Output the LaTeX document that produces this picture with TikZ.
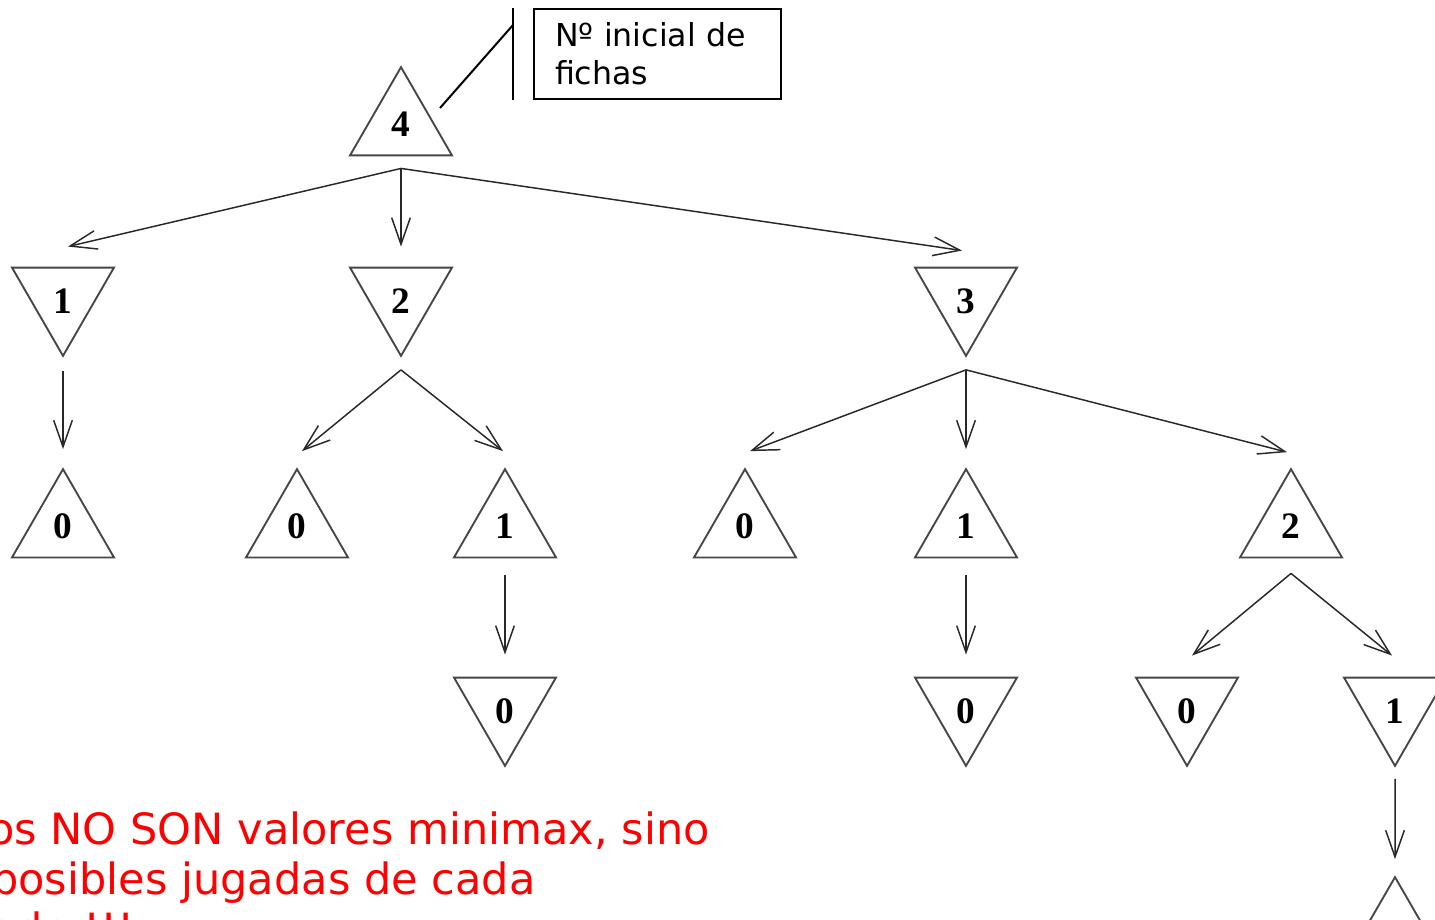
\documentclass[tikz,border=0pt]{standalone}
\usepackage{fontspec}
\setmainfont{DejaVu Sans}
\newfontfamily\digitfont{Liberation Serif}
\usetikzlibrary{shapes.geometric,arrows.meta,calc}
\definecolor{trigray}{RGB}{70,70,70}
\definecolor{arrgray}{RGB}{40,40,40}
\definecolor{notered}{RGB}{255,0,0}
\begin{document}
\begin{tikzpicture}[x=0.75pt,y=-0.75pt,
  tri/.style={regular polygon,regular polygon sides=3,draw=trigray,line width=1.4pt,
    inner sep=0pt,outer sep=0pt,minimum size=88.3pt,
    text height=18.5pt,text depth=3pt,
    font=\digitfont\bfseries\fontsize{28}{28}\selectfont},
  tridown/.style={tri,shape border rotate=180,text height=25pt,text depth=0pt},
  arr/.style={draw=arrgray,line width=1.1pt,
    -{Straight Barb[length=20pt,width=14pt,line width=1.1pt]}},
  callout/.style={draw=black,line width=1.5pt},
  redtxt/.style={text=notered,font=\fontsize{32.3}{37.5}\selectfont,inner sep=0pt,anchor=base west}]
\useasboundingbox (0,0) rectangle (1435,920);
\clip (0,0) rectangle (1435,920);
\fill[white] (0,0) rectangle (1435,920);

% nodes
\node[tri] (n4) at (401,126) {4};
\node[tridown] (a1) at (63,297) {1};
\node[tridown] (a2) at (401,297) {2};
\node[tridown] (a3) at (966,297) {3};
\node[tri] (b0) at (63,528) {0};
\node[tri] (c0) at (297,528) {0};
\node[tri] (c1) at (505,528) {1};
\node[tri] (d0) at (745,528) {0};
\node[tri] (d1) at (966,528) {1};
\node[tri] (d2) at (1291,528) {2};
\node[tridown] (e0) at (505,707) {0};
\node[tridown] (f0) at (966,707) {0};
\node[tridown] (g0) at (1187,707) {0};
\node[tridown] (g1) at (1395,707) {1};
\node[tri] (h0) at (1395,936) {};

% edges
\coordinate (s4) at ($(n4.south)+(0,13)$);
\draw[arr] (s4) -- ($(a1.north)+(5,-21)$);
\draw[arr] (s4) -- ($(a2.north)+(0,-21)$);
\draw[arr] (s4) -- ($(a3.north)+(-4,-17)$);

\draw[arr] ($(a1.south)+(0,15)$) -- ($(b0.north)+(0,-20)$);

\coordinate (s2) at ($(a2.south)+(0,14)$);
\draw[arr] (s2) -- ($(c0.north)+(5,-18)$);
\draw[arr] (s2) -- ($(c1.north)+(-2,-18)$);

\coordinate (s3) at ($(a3.south)+(0,14)$);
\draw[arr] (s3) -- ($(d0.north)+(5,-18)$);
\draw[arr] (s3) -- ($(d1.north)+(0,-20)$);
\draw[arr] (s3) -- ($(d2.north)+(-4,-17)$);

\draw[arr] ($(c1.south)+(0,18)$) -- ($(e0.north)+(0,-23)$);
\draw[arr] ($(d1.south)+(0,18)$) -- ($(f0.north)+(0,-23)$);

\coordinate (s22) at ($(d2.south)+(0,16)$);
\draw[arr] (s22) -- ($(g0.north)+(5,-22)$);
\draw[arr] (s22) -- ($(g1.north)+(-3,-22)$);

\draw[arr] ($(g1.south)+(0,13)$) -- ($(h0.north)+(0,-18)$);

% callout
\node[callout,anchor=north west,minimum height=67.5pt,text width=153.75pt,
  inner xsep=15.75pt,inner ysep=0pt,align=left,
  font=\fontsize{23.7}{28.5}\selectfont] (cb) at (533,8) {Nº inicial de\\fichas};
\coordinate (vtop) at ($(cb.north west)+(-20,0)$);
\coordinate (vbot) at ($(cb.south west)+(-20,0)$);
\coordinate (lq) at (513,25);
\coordinate (lp) at (440,108);
\draw[callout] (vtop) -- (vbot);
\draw[callout] (lp) -- (lq);

% red note
\node[redtxt] (t1) at (-12,844) {os NO SON valores minimax, sino};
\node[redtxt] (t2) at (-9,894) {posibles jugadas de cada};
\node[redtxt] (t3) at (-38,944) {nodo !!!};
\end{tikzpicture}
\end{document}
